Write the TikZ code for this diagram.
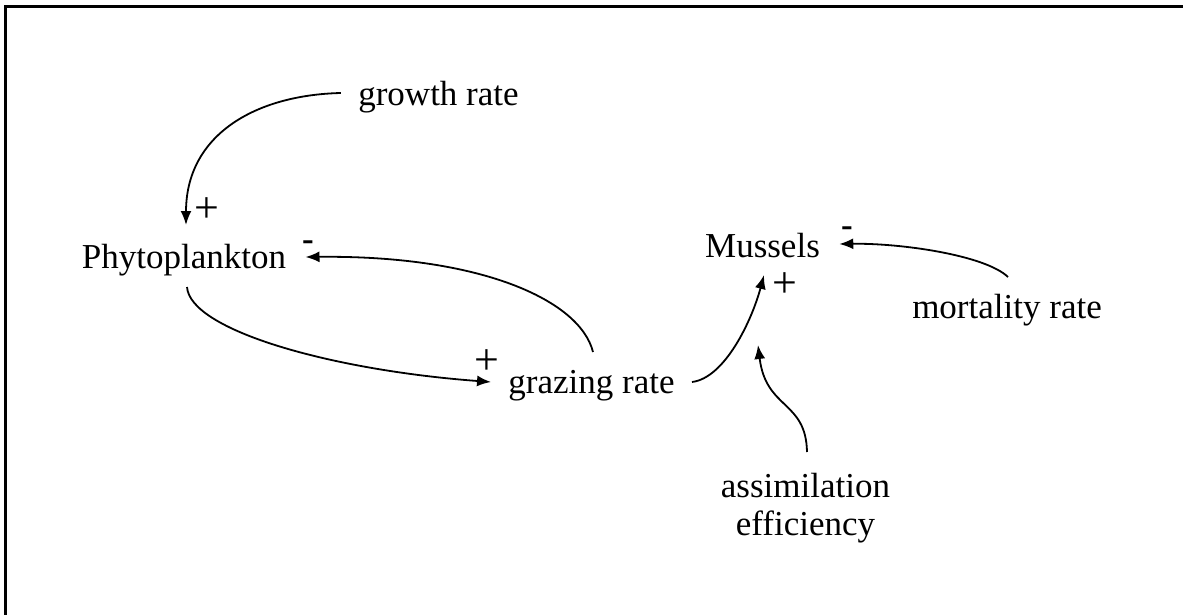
\documentclass[tikz,border=0pt]{standalone}
\usepackage{fontspec}
\setmainfont{Liberation Serif}
\usetikzlibrary{arrows.meta,calc}
\begin{document}
\begin{tikzpicture}[x=0.5pt,y=-0.5pt,
  lbl/.style={inner sep=0pt,font=\fontsize{17.5}{19}\selectfont},
  sign/.style={inner sep=0pt,font=\fontsize{22}{24}\selectfont},
  minus/.style={inner sep=0pt,font=\fontsize{17.5}{19}\selectfont\bfseries},
  conn/.style={line width=0.9pt,-{Latex[length=7pt,width=5.5pt]}}]
\useasboundingbox (0,0) rectangle (1183,615);
% open frame: top and left edges only
\draw[line width=1.5pt] (5.5,615) -- (5.5,7) -- (1183,7);

% variables
\node[lbl,anchor=base] (growth) at (438.5,105) {growth rate};
\node[lbl,anchor=base] (phyto) at (184,268) {Phytoplankton};
\node[lbl,anchor=base] (grazing) at (591.5,393) {grazing rate};
\node[lbl,anchor=base] (mussels) at (762.5,257) {Mussels};
\node[lbl,anchor=base] (mortality) at (1007,318) {mortality rate};
\node[lbl,anchor=north,align=center] (assim) at (805.5,473) {assimilation\\efficiency};

% link polarities
\node[sign] (s1) at (207,210) {+};
\node[minus] (s2) at (308,246) {-};
\node[sign] (s3) at (487,362) {+};
\node[sign] (s4) at (785,285) {+};
\node[minus] (s5) at (847,232) {-};

% point on the grazing -> mussels link
\coordinate (gmlink) at (758,345);

% causal links
\draw[conn] ($(growth.base west)+(-17,-12)$) .. controls (255,95) and (186,135) .. ($(phyto.base)+(2,-43)$);
\draw[conn] ($(phyto.base)+(3,19)$) .. controls (190,330) and (330,370) .. ($(grazing.base west)+(-17,-11)$);
\draw[conn] ($(grazing.base)+(1.5,-41)$) .. controls (580,300) and (480,255) .. ($(phyto.base east)+(19,-11)$);
\draw[conn] ($(grazing.base east)+(17,-11)$) .. controls (725,378) and (752,320) .. ($(mussels.base)+(1.5,18)$);
\draw[conn] ($(mortality.base)+(1,-41)$) .. controls (985,255) and (900,243) .. ($(mussels.base east)+(19,-13)$);
\draw[conn] ($(assim.north)+(1.5,-21)$) .. controls (806,400) and (766,410) .. (gmlink);
\end{tikzpicture}
\end{document}
